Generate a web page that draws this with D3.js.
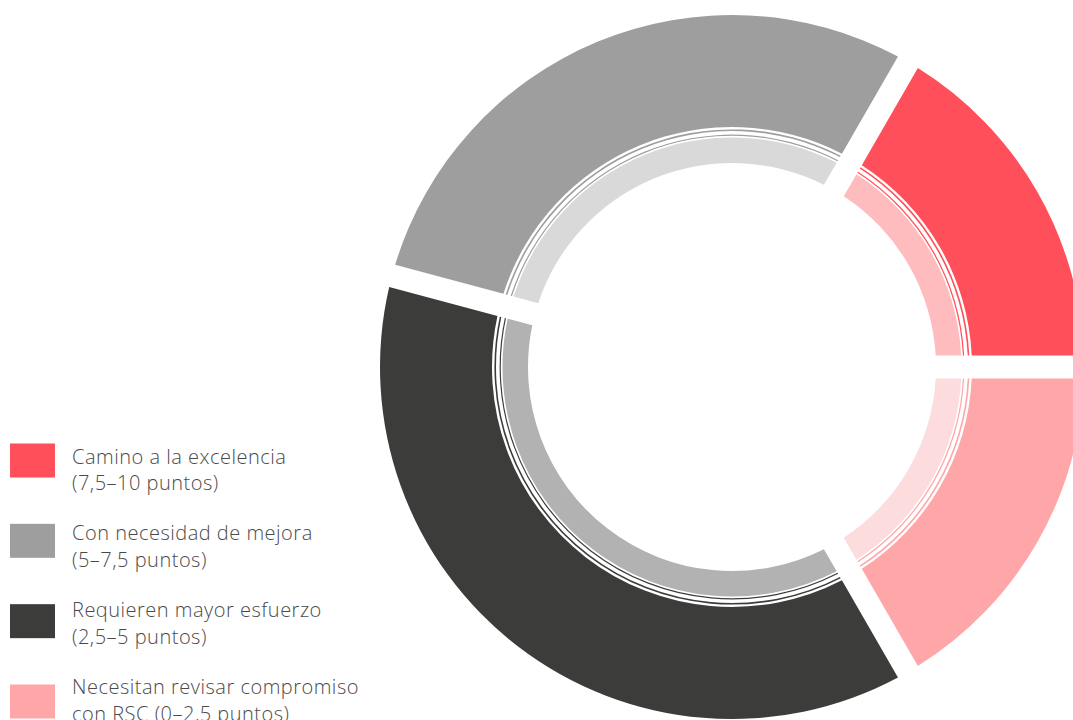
<!DOCTYPE html>
<html>
<head>
<meta charset="utf-8">
<script src="https://cdn.jsdelivr.net/npm/d3@7"></script>
<style>
  html, body { margin: 0; padding: 0; background: #ffffff; overflow: hidden; }
  svg { display: block; }
  .legend text { font-family: "Open Sans", Roboto, sans-serif; font-weight: 300; font-size: 20px; letter-spacing: 0.5px; fill: #4a4a4a; }
</style>
</head>
<body>
<svg id="chart" width="1073" height="720"></svg>
<script>
// ---- data ----
const categories = ["Camino a la excelencia", "Con necesidad de mejora", "Requieren mayor esfuerzo", "Necesitan revisar compromiso"];
const legendLine1 = ["Camino a la excelencia", "Con necesidad de mejora", "Requieren mayor esfuerzo", "Necesitan revisar compromiso"];
const legendLine2 = ["(7,5–10 puntos)", "(5–7,5 puntos)", "(2,5–5 puntos)", "con RSC (0–2,5 puntos)"];
const values = [4, 7, 9, 4];
const outerColors = ["#ff4f5a", "#9e9e9e", "#3c3c3b", "#ffa6a9"];
const innerColors = ["#ffbcbf", "#d9d9d9", "#b2b2b2", "#fddcdd"];

// ---- layout ----
const cx = 732, cy = 367;
const svg = d3.select("#chart");

const pie = d3.pie().sort(null).value(d => d)
  .startAngle(Math.PI / 2).endAngle(Math.PI / 2 - 2 * Math.PI);
const arcs = pie(values);

const pad = 0.23, padR = 100;
const mkArc = (r0, r1) => d3.arc().innerRadius(r0).outerRadius(r1).padAngle(pad).padRadius(padR);

const g = svg.append("g").attr("transform", `translate(${cx},${cy})`);

const outerArc = mkArc(240, 352);
const line1Arc = mkArc(236.0, 237.6);
const line2Arc = mkArc(231.2, 232.4);
const innerArc = mkArc(204, 229.5);

g.selectAll("path.outer").data(arcs).join("path").attr("class", "outer")
  .attr("d", d => outerArc({...d, padAngle: 0})).attr("fill", (d, i) => outerColors[i]);
g.selectAll("path.l1").data(arcs).join("path").attr("class", "l1")
  .attr("d", d => line1Arc({...d, padAngle: 0})).attr("fill", (d, i) => outerColors[i]);
g.selectAll("path.l2").data(arcs).join("path").attr("class", "l2")
  .attr("d", d => line2Arc({...d, padAngle: 0})).attr("fill", (d, i) => outerColors[i]);
g.selectAll("path.inner").data(arcs).join("path").attr("class", "inner")
  .attr("d", d => innerArc({...d, padAngle: 0})).attr("fill", (d, i) => innerColors[i]);

// ---- legend ----
const sqY = d3.scaleLinear().domain([0, 3]).range([443.5, 684.5]);
const txY = d3.scaleLinear().domain([0, 3]).range([463.5, 694]);
const lg = svg.append("g").attr("class", "legend");
categories.forEach((c, i) => {
  lg.append("rect").attr("x", 10).attr("y", sqY(i)).attr("width", 45).attr("height", 34)
    .attr("fill", outerColors[i]);
  lg.append("text").attr("x", 72).attr("y", txY(i)).text(legendLine1[i]);
  lg.append("text").attr("x", 72).attr("y", txY(i) + 26.5).text(legendLine2[i]);
});
</script>
</body>
</html>
